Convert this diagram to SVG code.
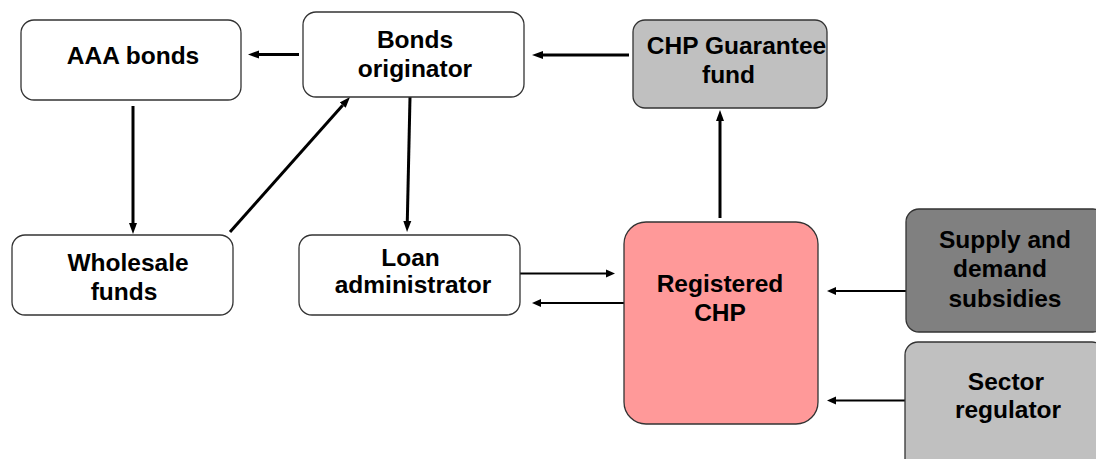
<svg xmlns="http://www.w3.org/2000/svg" width="1096" height="459" viewBox="0 0 1096 459">
<style>
.box{stroke:#333;stroke-width:1.3}
.w{fill:#fff}
.g{fill:#c0c0c0}
.dg{fill:#808080}
.pk{fill:#ff9999}
text{font-family:"Liberation Sans",Arial,sans-serif;font-weight:bold;font-size:24.5px;fill:#000;text-anchor:middle}
.thick{stroke:#000;stroke-width:3;fill:none;marker-end:url(#ah)}
.thin{stroke:#000;stroke-width:2;fill:none;marker-end:url(#at)}
</style>
<defs>
<marker id="ah" markerUnits="userSpaceOnUse" markerWidth="12" markerHeight="10" viewBox="0 -5 12 10" refX="0" refY="0" orient="auto">
<path d="M0,-4 L11,0 L0,4 z" fill="#000"/>
</marker>
<marker id="at" markerUnits="userSpaceOnUse" markerWidth="10" markerHeight="10" viewBox="0 -5 10 10" refX="0" refY="0" orient="auto">
<path d="M0,-4 L9,0 L0,4 z" fill="#000"/>
</marker>
</defs>
<rect width="1096" height="459" fill="#fff"/>
<g id="connectors">
<line class="thick" x1="299" y1="54.5" x2="259" y2="54.5"/>
<line class="thick" x1="629" y1="55" x2="543" y2="55"/>
<line class="thick" x1="133" y1="106" x2="133" y2="223"/>
<line class="thick" x1="230" y1="232" x2="342.7" y2="105.2"/>
<line class="thick" x1="410" y1="97" x2="407.3" y2="221"/>
<line class="thin" x1="519" y1="273.5" x2="606" y2="273.5"/>
<line class="thin" x1="624" y1="303" x2="541" y2="303"/>
<line class="thick" x1="720" y1="218" x2="720" y2="121"/>
<line class="thin" x1="906" y1="291" x2="836" y2="291"/>
<line class="thin" x1="905" y1="400.5" x2="836" y2="400.5"/>
</g>
<g id="aaa-bonds">
<rect class="box w" x="21" y="20" width="220" height="80" rx="13"/>
<text x="133" y="64">AAA bonds</text>
</g>
<g id="bonds-originator">
<rect class="box w" x="303" y="12" width="221" height="85" rx="13"/>
<text x="415" y="48">Bonds</text>
<text x="415" y="76.5">originator</text>
</g>
<g id="chp-guarantee-fund">
<rect class="box g" x="633" y="20" width="194" height="88" rx="12"/>
<text x="736.5" y="54">CHP Guarantee</text>
<text x="728.5" y="83">fund</text>
</g>
<g id="wholesale-funds">
<rect class="box w" x="12" y="235" width="221" height="80" rx="13"/>
<text x="128" y="271">Wholesale</text>
<text x="124" y="299.5">funds</text>
</g>
<g id="loan-administrator">
<rect class="box w" x="299" y="235" width="221" height="80" rx="13"/>
<text x="410.5" y="266">Loan</text>
<text x="413" y="293">administrator</text>
</g>
<g id="registered-chp">
<rect class="box pk" x="624" y="222" width="194" height="202" rx="22"/>
<text x="720" y="292">Registered</text>
<text x="720" y="321">CHP</text>
</g>
<g id="supply-demand-subsidies">
<rect class="box dg" x="906" y="209" width="200" height="123" rx="13"/>
<text x="1005" y="248">Supply and</text>
<text x="1000" y="277">demand</text>
<text x="1005" y="306.5">subsidies</text>
</g>
<g id="sector-regulator">
<rect class="box g" x="905" y="342" width="200" height="130" rx="13"/>
<text x="1006" y="390">Sector</text>
<text x="1008" y="418">regulator</text>
</g>
</svg>
